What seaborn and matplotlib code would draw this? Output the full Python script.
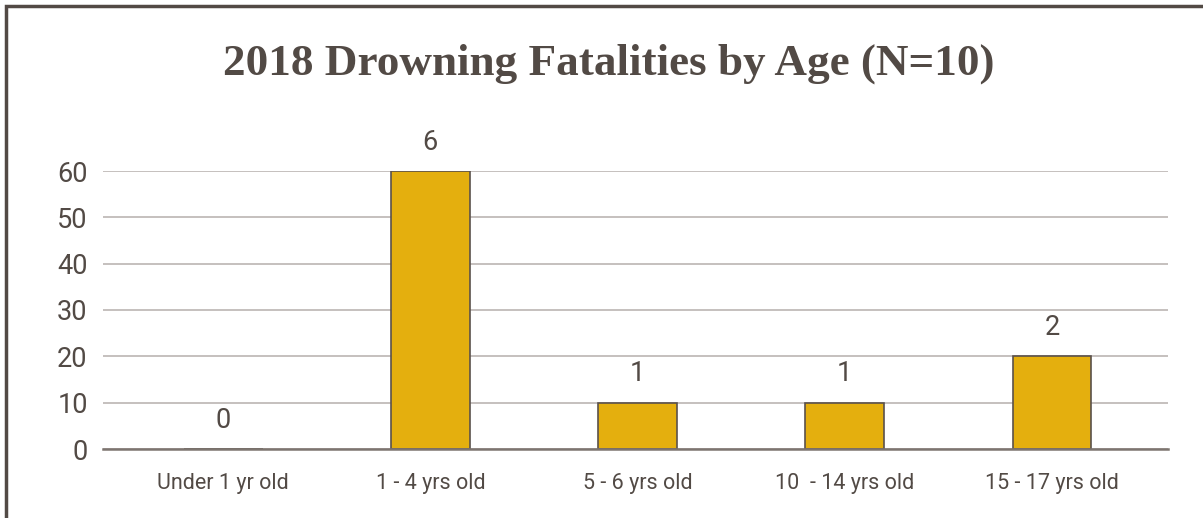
import matplotlib
matplotlib.use("Agg")
import matplotlib.pyplot as plt
import seaborn as sns
import pandas as pd
from matplotlib.patches import Rectangle

# Data
age_groups = ["Under 1 yr old", "1 - 4 yrs old", "5 - 6 yrs old", "10  - 14 yrs old", "15 - 17 yrs old"]
fatalities = [0, 6, 1, 1, 2]
total = 10
percent = [c / total * 100 for c in fatalities]
y_ticks = [0, 10, 20, 30, 40, 50, 60]

df = pd.DataFrame({"age": age_groups, "percent": percent, "count": fatalities})

sns.set_theme(style="white")
plt.rcParams["font.family"] = ["Roboto", "DejaVu Sans"]

text_col = "#524a45"
bar_col = "#e4af0e"

fig = plt.figure(figsize=(12.03, 5.18), dpi=100)
ax = fig.add_axes([103 / 1203, 1 - 449 / 518, (1168 - 103) / 1203, (449 - 171) / 518])

sns.barplot(data=df, x="age", y="percent", ax=ax, color=bar_col,
            width=0.38, edgecolor="#5a514c", linewidth=1.2, saturation=1)

ax.set_ylim(0, 60)
ax.set_xlim(-0.58, 4.56)
ax.set_yticks(y_ticks)
ax.yaxis.grid(True, color="#b5afac", linewidth=1.1)
ax.set_axisbelow(True)
for side in ["top", "right", "left"]:
    ax.spines[side].set_visible(False)
ax.spines["bottom"].set_color("#7d7570")
ax.spines["bottom"].set_linewidth(1.8)
ax.set_xlabel("")
ax.set_ylabel("")
ax.tick_params(axis="x", length=0, pad=17, labelsize=15.5, labelcolor=text_col)
ax.tick_params(axis="y", length=0, pad=11, labelsize=19.5, labelcolor=text_col)

# Count labels above each bar
for i, (p, c) in enumerate(zip(percent, fatalities)):
    ax.annotate(str(c), (i, p), xytext=(0, 11), textcoords="offset points",
                ha="center", va="bottom", fontsize=19.5, color=text_col,
                annotation_clip=False)

fig.text(0.506, 1 - 64 / 518, "2018 Drowning Fatalities by Age (N=10)",
         ha="center", va="center", fontsize=32.5, fontweight="bold",
         family="Liberation Serif", color=text_col)

# Frame along the left and top edges
fig.patches.append(Rectangle((5.5 / 1203, -0.1), 1.2, 1.1 - 6.5 / 518,
                             transform=fig.transFigure, fill=False,
                             edgecolor=text_col, linewidth=2.5))

fig.savefig("out.png", dpi=100, facecolor="white")
